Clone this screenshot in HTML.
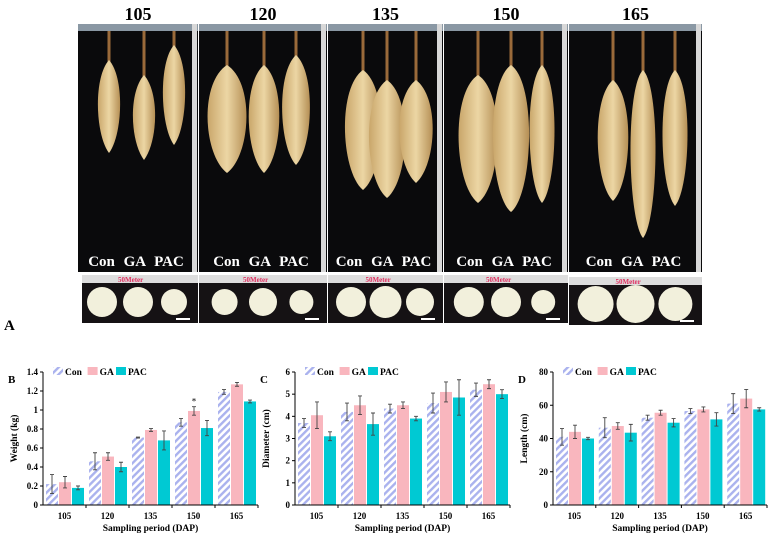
<!DOCTYPE html>
<html><head><meta charset="utf-8"><style>
body{margin:0;background:#fff;width:772px;height:539px;overflow:hidden;font-family:"Liberation Serif",serif}
svg{display:block}
</style></head><body>
<svg id="fig" width="772" height="539" viewBox="0 0 772 539">
<defs>
<pattern id="hatch" patternUnits="userSpaceOnUse" width="5" height="5" patternTransform="rotate(45)">
<rect width="5" height="5" fill="#fff"/><rect width="2.4" height="5" fill="#aab2ee"/></pattern>
<linearGradient id="tub" x1="0" x2="1"><stop offset="0" stop-color="#c9a66a"/><stop offset="0.5" stop-color="#ecd6a4"/><stop offset="1" stop-color="#b58f55"/></linearGradient>
</defs>
<g id="photo"></g>
<text x="4" y="330" font-size="15" font-weight="bold">A</text>
<g id="charts"></g>
</svg>
<script>
const NS='http://www.w3.org/2000/svg';
function mk(p,t,a,txt){const e=document.createElementNS(NS,t);for(const k in a)e.setAttribute(k,a[k]);if(txt!==undefined)e.textContent=txt;p.appendChild(e);return e;}
const photo=document.getElementById('photo');
const panels=[[78,198,'105'],[199,327,'120'],[328,443,'135'],[444,568,'150'],[569,702,'165']];
const tubers=[[[109,60,153,16],[144,75,160,16],[174,45,145,16]],
[[227,65,173,28],[264,65,173,22],[296,55,165,20]],
[[363,70,190,26],[387,80,198,26],[416,80,183,24]],
[[478,75,203,28],[511,65,212,26],[542,65,203,18]],
[[613,80,201,22],[643,70,238,18],[675,70,206,18]]];
const radii=[[15,15,13],[13,14,12],[15,16,14],[15,15,12],[18,19,17]];
panels.forEach((p,i)=>{
 const [x0,x1,lab]=p;
 mk(photo,'text',{x:(x0+x1)/2,y:20,'font-size':18,'font-weight':'bold','text-anchor':'middle',},lab);
 mk(photo,'rect',{x:x0,y:24,width:x1-x0,height:248,fill:'#0a0a0c',});
 mk(photo,'rect',{x:x0,y:24,width:x1-x0,height:7,fill:'#8a98a4'});
 mk(photo,'rect',{x:x1-6,y:24,width:5,height:248,fill:'#d8d8d8'});
 tubers[i].forEach(t=>{
  const [cx,top,bot,w]=t;
  mk(photo,'line',{x1:cx,y1:31,x2:cx,y2:top+5,stroke:'#9a6a3a','stroke-width':3});
  mk(photo,'path',{d:`M${cx},${top} C${cx+w},${top+18} ${cx+w*0.85},${bot-18} ${cx},${bot} C${cx-w*0.85},${bot-18} ${cx-w},${top+18} ${cx},${top}Z`,fill:'url(#tub)',});
 });
 mk(photo,'text',{x:(x0+x1)/2-2,y:266,'font-size':15,'font-weight':'bold',fill:'#fff','text-anchor':'middle','word-spacing':'5',},'Con GA PAC');
 const cy0=i==4?277:275;
 mk(photo,'rect',{x:x0+(i==0?4:0),y:cy0,width:x1-x0-(i==0?4:0),height:48,fill:'#151214',});
 mk(photo,'rect',{x:x0+(i==0?4:0),y:cy0,width:x1-x0-(i==0?4:0),height:8,fill:'#ddd'});
 mk(photo,'text',{x:(x0+x1)/2-20,y:cy0+7,'font-size':7,fill:'#e03060','font-weight':'bold'},'50Meter');
 const w=x1-x0;
 radii[i].forEach((r,j)=>{mk(photo,'circle',{cx:x0+w*(0.2+0.3*j),cy:cy0+27,r:r,fill:'#f2f0dc',});});
 mk(photo,'rect',{x:x1-22,y:cy0+43,width:14,height:2,fill:'#fff'});
});

// ---- chart data ----
const categories=['105','120','135','150','165'];
const seriesNames=['Con','GA','PAC'];
const weightCon=[0.22,0.46,0.71,0.87,1.19];
const weightGA=[0.24,0.51,0.79,0.99,1.27];
const weightPAC=[0.18,0.40,0.68,0.81,1.09];
const weightErrCon=[0.10,0.09,0.005,0.04,0.025];
const weightErrGA=[0.06,0.04,0.015,0.045,0.02];
const weightErrPAC=[0.02,0.05,0.10,0.08,0.015];
const weightTicks=['0','0.2','0.4','0.6','0.8','1','1.2','1.4'];
const diamCon=[3.7,4.2,4.35,4.6,5.2];
const diamGA=[4.05,4.5,4.5,5.1,5.45];
const diamPAC=[3.1,3.65,3.9,4.85,5.0];
const diamErrCon=[0.2,0.4,0.2,0.45,0.3];
const diamErrGA=[0.6,0.42,0.15,0.45,0.2];
const diamErrPAC=[0.2,0.5,0.1,0.8,0.2];
const diamTicks=['0','1','2','3','4','5','6'];
const lenCon=[41,46.5,52.5,56.5,61];
const lenGA=[44,47.5,55.5,57.5,64];
const lenPAC=[40,43.5,49.5,51.5,57.5];
const lenErrCon=[5,6,1.5,1.5,6];
const lenErrGA=[4,2,1.5,1.5,5.5];
const lenErrPAC=[0.7,5,2.5,4,1];
const lenTicks=['0','20','40','60','80'];

const fills=['url(#hatch)','#f9b6be','#00c9d3'];
const charts=document.getElementById('charts');
function chart(id,letter,x0,x1,ymax,ticks,title,vals,errs,star){
 const g=mk(charts,'g',{});
 const y0=505,yt=372;
 const ys=v=>y0-(v/ymax)*(y0-yt);
 const gw=(x1-x0)/categories.length;
 mk(g,'text',{x:x0-35,y:383,'font-size':11,'font-weight':'bold',},letter);
 ticks.forEach((t,i)=>{const v=ymax*i/(ticks.length-1);const y=ys(v);
  mk(g,'line',{x1:x0-3,y1:y,x2:x0,y2:y,stroke:'#000'});
  mk(g,'text',{x:x0-5,y:y+3,'font-size':9,'font-weight':'bold','text-anchor':'end',},t);});
 mk(g,'text',{transform:`translate(${x0-26},${(y0+yt)/2}) rotate(-90)`,'font-size':9.5,'font-weight':'bold','text-anchor':'middle',},title);
 vals.forEach((sv,s)=>{sv.forEach((v,c)=>{
  const bx=x0+gw*c+3+s*13;const y=ys(v);
  const b=mk(g,'rect',{x:bx,y:y,width:12,height:y0-y,fill:fills[s]});
  
  
  const e=errs[s][c];const cx=bx+6;
  mk(g,'path',{d:`M${cx},${ys(v+e)}V${ys(v-e)}M${cx-2},${ys(v+e)}h4M${cx-2},${ys(v-e)}h4`,stroke:'#444','stroke-width':0.9,fill:'none',});
 });});
 if(star){const [s,c]=star;mk(g,'text',{x:x0+gw*c+3+s*13+6,y:ys(vals[s][c]+errs[s][c])-2,'font-size':9,'text-anchor':'middle',},'*');}
 mk(g,'line',{x1:x0,y1:yt,x2:x0,y2:y0,stroke:'#000',});
 mk(g,'line',{x1:x0,y1:y0,x2:x1,y2:y0,stroke:'#000',});
 categories.forEach((c,i)=>{mk(g,'line',{x1:x0+gw*(i+1),y1:y0,x2:x0+gw*(i+1),y2:y0+3,stroke:'#000'});
  mk(g,'text',{x:x0+gw*(i+0.5),y:519,'font-size':9,'font-weight':'bold','text-anchor':'middle',},c);});
 mk(g,'text',{x:(x0+x1)/2,y:531,'font-size':9.5,'font-weight':'bold','text-anchor':'middle',},'Sampling  period (DAP)');
 const lg=mk(g,'g',{});
 let lx=x0+10;
 seriesNames.forEach((n,s)=>{mk(lg,'rect',{x:lx,y:367,width:10,height:8,fill:fills[s],});
  mk(lg,'text',{x:lx+12,y:375,'font-size':9.5,'font-weight':'bold',},n);lx+=12+(n.length*6.2)+4;});
}
chart('weight-chart','B',43,258,1.4,weightTicks,'Weight (kg)',[weightCon,weightGA,weightPAC],[weightErrCon,weightErrGA,weightErrPAC],[1,3]);
chart('diameter-chart','C',295,510,6,diamTicks,'Diameter (cm)',[diamCon,diamGA,diamPAC],[diamErrCon,diamErrGA,diamErrPAC]);
chart('length-chart','D',553,767,80,lenTicks,'Length (cm)',[lenCon,lenGA,lenPAC],[lenErrCon,lenErrGA,lenErrPAC]);
</script>
</body></html>
